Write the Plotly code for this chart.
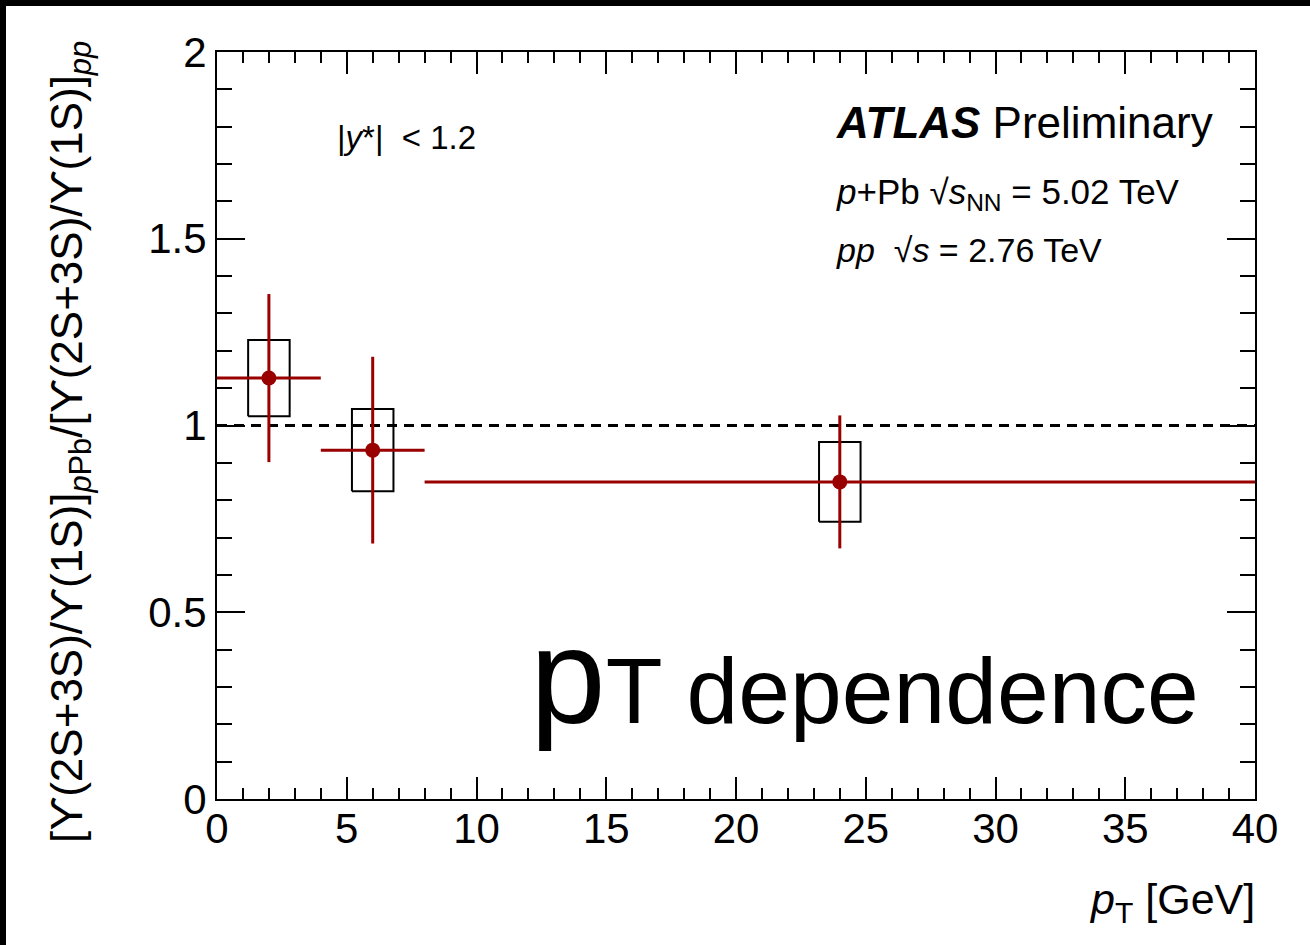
import plotly.graph_objects as go

# Upsilon excited-to-ground state double ratio, p+Pb over pp, vs pT
pt_center = [2.0, 6.0, 24.0]
pt_low = [0.0, 4.0, 8.0]
pt_high = [4.0, 8.0, 40.0]
ratio = [1.127, 0.934, 0.849]
stat_err = [0.225, 0.25, 0.178]
syst_err = [0.102, 0.11, 0.107]
syst_half_width = 0.8

x_range = [0, 40]
y_range = [0, 2]

RED = "#990000"
FONT = "Liberation Sans, Arial, Helvetica, sans-serif"

# plot area in pixels
W, H = 1310, 945
ML, MR, MT, MB = 217, 55, 52, 146
PW, PH = W - ML - MR, H - MT - MB


def px(xp):
    return (xp - ML) / PW


def py(yp):
    return (H - MB - yp) / PH


fig = go.Figure()

# reference line at unity
fig.add_trace(go.Scatter(
    x=x_range, y=[1, 1], mode="lines",
    line=dict(color="black", width=3, dash="10px,7px"),
    hoverinfo="skip", showlegend=False,
))

# systematic uncertainty boxes
for xc, yc, s in zip(pt_center, ratio, syst_err):
    x0, x1 = xc - syst_half_width, xc + syst_half_width
    y0, y1 = yc - s, yc + s
    fig.add_trace(go.Scatter(
        x=[x0, x1, x1, x0, x0], y=[y0, y0, y1, y1, y0], mode="lines",
        line=dict(color="black", width=2), hoverinfo="skip", showlegend=False,
    ))

# data points with statistical errors and bin widths
fig.add_trace(go.Scatter(
    x=pt_center, y=ratio, mode="markers",
    marker=dict(color=RED, size=15, symbol="circle"),
    error_y=dict(type="data", array=stat_err, color=RED, thickness=3, width=0),
    error_x=dict(type="data", symmetric=False,
                 array=[h - c for h, c in zip(pt_high, pt_center)],
                 arrayminus=[c - l for c, l in zip(pt_center, pt_low)],
                 color=RED, thickness=3, width=0),
    showlegend=False,
))

axis_common = dict(
    showline=True, linecolor="black", linewidth=2, mirror="ticks",
    ticks="inside", tickcolor="black", tickwidth=1.5,
    showgrid=False, zeroline=False,
    tickfont=dict(family=FONT, size=42, color="black"),
)

fig.update_xaxes(
    range=x_range, tick0=0, dtick=5, ticklen=22, ticklabelstandoff=-8,
    minor=dict(dtick=1, ticklen=11, ticks="inside", tickcolor="black", tickwidth=1.5, showgrid=False),
    **axis_common,
)
fig.update_yaxes(
    range=y_range, tick0=0, dtick=0.5, ticklen=28,
    tickvals=[0, 0.5, 1, 1.5, 2], ticktext=["0", "0.5", "1", "1.5", "2"],
    minor=dict(dtick=0.1, ticklen=15, ticks="inside", tickcolor="black", tickwidth=1.5, showgrid=False),
    **axis_common,
)

annotations = [
    dict(text="|<i>y</i>*|  < 1.2", x=px(335), y=py(137), xanchor="left", yanchor="middle",
         font=dict(family=FONT, size=33, color="black")),
    dict(text="<b><i>ATLAS</i></b> Preliminary", x=px(834), y=py(122), xanchor="left", yanchor="middle",
         font=dict(family=FONT, size=44, color="black")),
    dict(text="<i>p</i>+Pb √<i>s</i><sub>NN</sub> = 5.02 TeV", x=px(834), y=py(194), xanchor="left",
         yanchor="middle", font=dict(family=FONT, size=35, color="black")),
    dict(text="<i>pp</i>  √<i>s</i> = 2.76 TeV", x=px(834), y=py(250), xanchor="left", yanchor="middle",
         font=dict(family=FONT, size=34, color="black")),
    dict(text="<span style='font-size:136px'>p</span>T dependence", x=px(528), y=py(676),
         xanchor="left", yanchor="middle",
         font=dict(family=FONT, size=93, color="black")),
    dict(text="<i>p</i><sub>T</sub> [GeV]", x=px(1257), y=py(902), xanchor="right", yanchor="middle",
         font=dict(family=FONT, size=43, color="black")),
    dict(text="[ϒ(2S+3S)/ϒ(1S)]<sub><i>p</i>Pb</sub>/[ϒ(2S+3S)/ϒ(1S)]<sub><i>pp</i></sub>",
         x=px(70), y=py(442), xanchor="center", yanchor="middle", textangle=-90,
         font=dict(family=FONT, size=44, color="black")),
]
for a in annotations:
    a.update(xref="paper", yref="paper", showarrow=False)

# black frame strips at the top and left edges of the page
shapes = [
    dict(type="rect", xref="paper", yref="paper", x0=px(0), x1=px(W), y0=py(6), y1=py(0),
         fillcolor="black", line=dict(width=0), layer="above"),
    dict(type="rect", xref="paper", yref="paper", x0=px(0), x1=px(6), y0=py(H), y1=py(0),
         fillcolor="black", line=dict(width=0), layer="above"),
]

fig.update_layout(
    width=W, height=H,
    margin=dict(l=ML, r=MR, t=MT, b=MB),
    paper_bgcolor="white", plot_bgcolor="white",
    annotations=annotations, shapes=shapes,
    font=dict(family=FONT, color="black"),
)

fig.write_html("out.html")
